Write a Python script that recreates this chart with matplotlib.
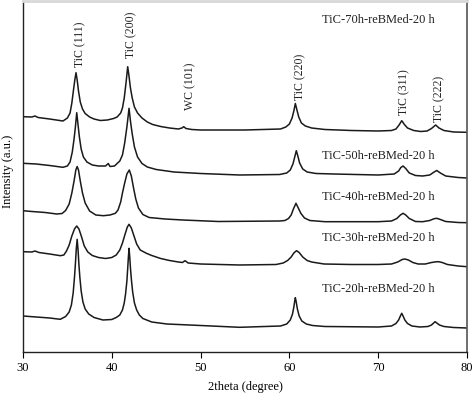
import matplotlib.pyplot as plt

plt.rcParams['font.family'] = ['Liberation Serif', 'DejaVu Serif']

tic_70h = [(30.0, 16.3), (31.0, 16), (31.35, 17), (31.7, 15.5), (33.0, 14), (34.5, 12), (35.0, 15),
           (35.3, 20), (35.5, 30), (35.7, 44), (35.85, 54), (35.97, 60.3), (36.1, 53), (36.25, 42),
           (36.45, 31), (36.7, 24), (37.0, 19.5), (37.5, 16), (38.0, 14), (38.7, 12.5), (39.5, 13),
           (40.2, 14.5), (40.6, 16), (41.0, 20), (41.2, 25), (41.4, 35), (41.6, 50), (41.79, 66.3),
           (41.95, 56), (42.1, 45), (42.3, 35), (42.55, 26), (42.9, 20), (43.4, 15), (44.0, 11),
           (44.6, 8.5), (45.5, 6.5), (46.5, 5), (47.5, 4), (47.9, 5), (48.1, 6.3), (48.35, 4.5),
           (49.0, 3.5), (50.0, 3), (55.0, 3), (59.0, 4), (59.6, 6), (60.0, 9), (60.3, 15), (60.5, 22),
           (60.67, 29.5), (60.85, 23), (61.05, 16), (61.35, 10), (61.8, 7), (62.5, 5), (64.0, 3.5),
           (67.0, 2.5), (70.0, 2), (71.5, 2.5), (72.0, 4), (72.35, 8), (72.65, 12.3), (72.95, 8.5),
           (73.3, 5), (74.0, 2.5), (74.8, 1.5), (75.5, 2), (76.0, 4.5), (76.47, 8), (76.85, 5),
           (77.4, 2.5), (78.5, 1), (80.0, 0.7)]

tic_50h = [(30.0, 15.7), (31.5, 15), (33.0, 13.5), (34.5, 11.7), (35.0, 13), (35.3, 17), (35.55, 27),
           (35.75, 40), (35.9, 52), (36.05, 66.3), (36.2, 54), (36.35, 42), (36.55, 30), (36.8, 22),
           (37.2, 17), (37.8, 14), (38.5, 13), (39.3, 13), (39.6, 15.5), (39.8, 12.5), (40.3, 13),
           (40.9, 18), (41.2, 24), (41.45, 36), (41.7, 52), (41.94, 70.7), (42.1, 58), (42.3, 45),
           (42.55, 32), (42.9, 22), (43.4, 15.5), (44.0, 12), (45.0, 9.5), (47.0, 7), (50.0, 5.5),
           (54.4, 4), (58.9, 4.5), (59.7, 6), (60.1, 9), (60.4, 15), (60.6, 22), (60.78, 28.3),
           (60.95, 23), (61.15, 16), (61.5, 10), (62.0, 7), (63.0, 5.5), (65.0, 5), (70.0, 4),
           (71.8, 5), (72.3, 8), (72.55, 11.5), (72.8, 13), (73.1, 10.5), (73.5, 6), (74.2, 3.5),
           (75.0, 3), (75.8, 4), (76.3, 7), (76.6, 8.5), (77.0, 6), (77.6, 3), (79.0, 1.5), (80.0, 1)]

tic_40h = [(30.0, 12.3), (31.0, 11.5), (32.5, 10.5), (33.8, 9), (34.4, 9.5), (34.8, 12.5), (35.2, 19),
           (35.5, 30), (35.75, 42), (35.95, 53), (36.1, 56.5), (36.25, 53), (36.45, 42), (36.7, 30),
           (37.0, 20), (37.5, 12), (38.2, 8), (39.05, 7.3), (39.8, 8), (40.4, 9.7), (40.7, 13),
           (41.0, 21), (41.2, 30), (41.45, 40), (41.7, 49), (41.97, 53), (42.2, 47), (42.45, 35),
           (42.7, 24), (43.0, 15), (43.5, 8.5), (44.2, 5.5), (46.0, 4), (48.0, 3), (52.0, 1.5),
           (58.9, 2), (59.5, 2.5), (59.9, 4.5), (60.2, 8), (60.45, 14), (60.74, 19.7), (61.0, 15),
           (61.3, 9.5), (61.7, 5), (62.3, 2.5), (64.0, 1.3), (70.0, 1.3), (71.5, 2), (72.1, 4.5),
           (72.5, 8), (72.8, 9.7), (73.1, 8), (73.5, 4.5), (74.2, 1.5), (75.0, 1.3), (75.8, 2.5),
           (76.3, 4.3), (76.6, 4.7), (77.0, 3.5), (77.6, 1.5), (79.0, 0.5), (80.0, 0.3)]

tic_30h = [(30.0, 15.3), (31.0, 15), (31.35, 16), (31.8, 14.5), (33.0, 13), (34.2, 11.3), (34.6, 12),
           (34.9, 16), (35.2, 22), (35.5, 31), (35.8, 38), (36.05, 41), (36.3, 38), (36.6, 30),
           (36.9, 21), (37.3, 15), (37.8, 11.5), (38.5, 9.5), (39.3, 8.5), (40.0, 9.5), (40.5, 12),
           (40.9, 17), (41.2, 24), (41.5, 33), (41.75, 40), (41.94, 42.7), (42.2, 39), (42.5, 31),
           (42.8, 23), (43.2, 17), (43.9, 13.7), (44.5, 11.5), (45.5, 8.5), (46.5, 6.5), (47.5, 5),
           (47.95, 4.5), (48.25, 6.3), (48.6, 4), (50.0, 3), (54.4, 2), (58.5, 2.5), (59.3, 4),
           (59.8, 6.5), (60.2, 10), (60.5, 14), (60.8, 16.3), (61.1, 14.5), (61.5, 10), (62.0, 6.5),
           (62.5, 5), (63.9, 3), (67.0, 2.5), (70.0, 2.5), (71.5, 3), (72.2, 5), (72.7, 7.5),
           (73.0, 8), (73.4, 7), (73.9, 4.5), (74.5, 3), (75.3, 3), (76.0, 4.5), (76.5, 5.2),
           (76.8, 5.3), (77.2, 4.5), (77.8, 2.5), (79.0, 1), (80.0, 0.3)]

tic_20h = [(30.0, 13), (31.5, 12), (33.0, 11), (34.2, 9.7), (34.8, 12.5), (35.2, 17), (35.45, 24),
           (35.65, 36), (35.8, 52), (35.9, 65), (36.0, 80), (36.1, 89.7), (36.2, 79), (36.3, 64),
           (36.4, 52), (36.55, 38), (36.75, 27), (37.0, 20), (37.4, 15), (38.0, 11.5), (39.0, 9),
           (40.0, 9.5), (40.5, 11.5), (40.9, 14), (41.2, 19), (41.4, 26), (41.55, 35), (41.7, 48),
           (41.8, 62), (41.87, 72), (41.94, 80.7), (42.02, 72), (42.1, 61), (42.2, 50), (42.35, 37),
           (42.55, 26), (42.8, 19), (43.1, 14), (43.5, 10.5), (44.5, 7), (46.2, 5), (50.0, 3.5),
           (54.4, 1.7), (59.0, 3), (59.7, 5), (60.1, 9), (60.35, 15), (60.5, 22), (60.6, 28),
           (60.67, 31.3), (60.77, 27), (60.9, 20), (61.1, 13), (61.4, 8), (61.9, 5), (62.6, 3.5),
           (64.0, 2.5), (70.0, 2), (71.5, 3), (72.0, 5.5), (72.3, 9), (72.5, 13), (72.65, 15.7),
           (72.8, 13), (73.0, 9), (73.3, 5.5), (73.8, 3), (74.7, 2), (75.6, 2.5), (76.0, 4),
           (76.25, 6), (76.4, 7.3), (76.6, 6), (76.9, 4), (77.4, 2.5), (78.5, 1.5), (80.0, 1)]

series = [tic_70h, tic_50h, tic_40h, tic_30h, tic_20h]
names = ['TiC-70h-reBMed-20 h', 'TiC-50h-reBMed-20 h', 'TiC-40h-reBMed-20 h',
         'TiC-30h-reBMed-20 h', 'TiC-20h-reBMed-20 h']
peak_names = ['TiC (111)', 'TiC (200)', 'WC (101)', 'TiC (220)', 'TiC (311)', 'TiC (222)']

# stacking offsets and label placement
offsets = [219, 173, 129, 85, 23]
name_y = [332, 196, 155, 114, 63]
peak_pos = [(36.5, 285), (42.25, 294), (48.85, 242), (61.25, 252), (72.9, 237), (76.9, 230)]

fig = plt.figure(figsize=(4.74, 3.95), dpi=100)
ax = fig.add_axes([23 / 474, 43 / 395, 444 / 474, 351 / 395])

for pts, off in zip(series, offsets):
    x = [p[0] for p in pts]
    y = [p[1] + off for p in pts]
    ax.plot(x, y, color='#1a1a1a', lw=1.1)

for name, yy in zip(names, name_y):
    ax.text(70, yy, name, ha='center', va='center', fontsize=9, color='#222222')

for lab, (px, py) in zip(peak_names, peak_pos):
    ax.text(px, py, lab, rotation=90, ha='center', va='bottom', fontsize=8.5, color='#222222')

ax.set_xlim(30, 80)
ax.set_ylim(0, 351)
ax.set_xticks([30, 40, 50, 60, 70, 80])
ax.set_yticks([])
ax.tick_params(axis='x', direction='out', length=4, width=0.8, labelsize=9, pad=3)
for s in ['left', 'bottom']:
    ax.spines[s].set_linewidth(1.0)
    ax.spines[s].set_color('#222222')
ax.spines['right'].set_color('#555555')
ax.spines['right'].set_linewidth(1.2)
ax.spines['top'].set_color('#d8d8d8')
ax.spines['top'].set_linewidth(2)

fig.text(245 / 474, 1 - 387 / 395, '2theta (degree)', ha='center', va='center', fontsize=9)
fig.text(8 / 474, 1 - 171 / 395, 'Intensity (a.u.)', rotation=90, ha='center', va='center', fontsize=9)

fig.savefig('out.png', dpi=100)
